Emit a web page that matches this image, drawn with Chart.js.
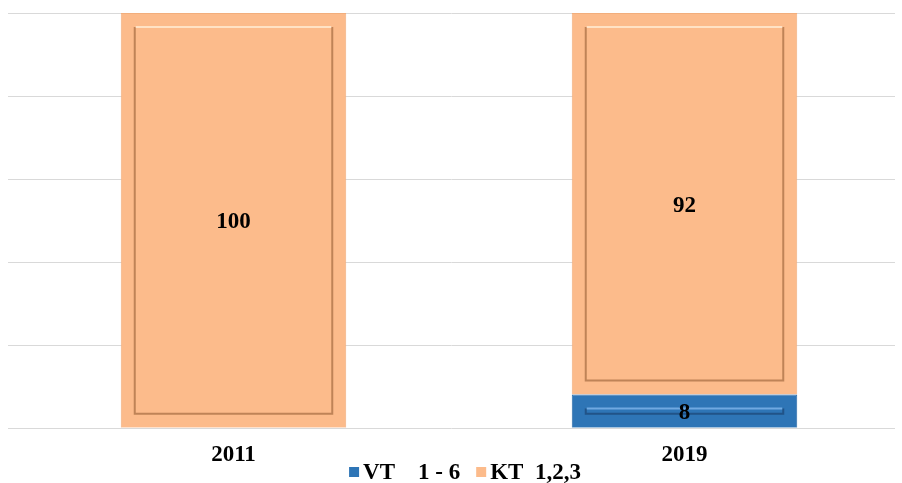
<!DOCTYPE html>
<html>
<head>
<meta charset="utf-8">
<script src="https://cdn.jsdelivr.net/npm/chart.js@4.4.1/dist/chart.umd.min.js"></script>
<style>
  html, body { margin: 0; padding: 0; background: #fff; overflow: hidden; }
  #wrap { width: 910px; height: 483px; }
</style>
</head>
<body>
<div id="wrap"><canvas id="chart"></canvas></div>
<script>
const years = ['2011', '2019'];
const vtValues = [0, 8];
const ktValues = [100, 92];
const seriesNames = ['VT    1 - 6', 'KT  1,2,3'];

const serif = "'Liberation Serif', 'Times New Roman', serif";

// horizontal gridlines stop short of the right edge in the original
const shortGrid = {
  id: 'shortGrid',
  beforeDatasetsDraw(chart) {
    const ctx = chart.ctx;
    const y = chart.scales.y;
    const right = Math.min(chart.chartArea.right, 895);
    ctx.save();
    ctx.strokeStyle = '#d9d9d9';
    ctx.lineWidth = 1;
    y.ticks.forEach(t => {
      const py = Math.round(y.getPixelForValue(t.value)) + 0.5;
      ctx.beginPath();
      ctx.moveTo(chart.chartArea.left, py);
      ctx.lineTo(right, py);
      ctx.stroke();
    });
    ctx.restore();
  }
};

// fake the office "bevel" look with an inset frame on every bar
const bevelPlugin = {
  id: 'bevel',
  afterDatasetsDraw(chart) {
    const ctx = chart.ctx;
    chart.data.datasets.forEach((ds, i) => {
      const meta = chart.getDatasetMeta(i);
      meta.data.forEach((bar, j) => {
        if (!ds.data[j]) return;
        const left = bar.x - bar.width / 2;
        const right = bar.x + bar.width / 2;
        const top = Math.min(bar.y, bar.base);
        const bottom = Math.max(bar.y, bar.base);
        const h = bottom - top;
        const ix = 14;
        const iy = Math.min(14, h / 2 - 1);
        const l = left + ix, r = right - ix, t = top + iy, b = bottom - iy;
        ctx.save();
        ctx.lineWidth = 2;
        ctx.strokeStyle = ds.shade;
        ctx.beginPath();
        ctx.moveTo(l, t); ctx.lineTo(l, b); ctx.lineTo(r, b); ctx.lineTo(r, t);
        ctx.stroke();
        ctx.strokeStyle = ds.light;
        ctx.beginPath();
        ctx.moveTo(l + 1, t); ctx.lineTo(r - 1, t);
        ctx.stroke();
        ctx.restore();
      });
    });
  }
};

const valueLabels = {
  id: 'valueLabels',
  afterDatasetsDraw(chart) {
    const ctx = chart.ctx;
    ctx.save();
    ctx.font = 'bold 23px ' + serif;
    ctx.fillStyle = '#000';
    ctx.textAlign = 'center';
    ctx.textBaseline = 'middle';
    chart.data.datasets.forEach((ds, i) => {
      chart.getDatasetMeta(i).data.forEach((bar, j) => {
        const v = ds.data[j];
        if (!v) return;
        ctx.fillText(String(v), bar.x, (bar.y + bar.base) / 2 + 2);
      });
    });
    ctx.restore();
  }
};

// legend sits on the same band as the category labels, so draw it by hand
const bottomLegend = {
  id: 'bottomLegend',
  afterDraw(chart) {
    const ctx = chart.ctx;
    const y = 472, box = 10, gapText = 4, gapItem = 16;
    ctx.save();
    ctx.font = 'bold 23px ' + serif;
    ctx.textBaseline = 'middle';
    ctx.textAlign = 'left';
    const items = chart.data.datasets.map(ds => ({
      text: ds.label, color: ds.backgroundColor, w: ctx.measureText(ds.label).width
    }));
    let total = items.reduce((s, it) => s + box + gapText + it.w, 0) + gapItem * (items.length - 1);
    let x = (chart.chartArea.left + chart.chartArea.right) / 2 - total / 2 + 6;
    items.forEach(it => {
      ctx.fillStyle = it.color;
      ctx.fillRect(x, y - box / 2, box, box);
      x += box + gapText;
      ctx.fillStyle = '#000';
      ctx.fillText(it.text, x, y + 1);
      x += it.w + gapItem;
    });
    ctx.restore();
  }
};

new Chart(document.getElementById('chart'), {
  type: 'bar',
  data: {
    labels: years,
    datasets: [
      {
        label: seriesNames[0],
        data: vtValues,
        backgroundColor: '#2E75B6',
        borderColor: '#2a6aa6',
        borderWidth: 1,
        shade: 'rgba(20,50,90,0.5)',
        light: 'rgba(120,175,230,0.9)'
      },
      {
        label: seriesNames[1],
        data: ktValues,
        backgroundColor: '#FCBB8B',
        borderColor: '#f2ae7c',
        borderWidth: 1,
        shade: 'rgba(140,85,45,0.55)',
        light: 'rgba(255,228,200,0.95)'
      }
    ]
  },
  options: {
    responsive: true,
    maintainAspectRatio: false,
    animation: false,
    layout: { padding: { top: 13, left: 8, right: 0, bottom: 0 } },
    datasets: { bar: { categoryPercentage: 1, barPercentage: 0.5 } },
    scales: {
      x: {
        stacked: true,
        grid: { display: false, drawTicks: false },
        border: { display: false },
        ticks: {
          color: '#000',
          padding: 0,
          font: { family: serif, size: 23, weight: 'bold', lineHeight: 2.4 }
        }
      },
      y: {
        stacked: true,
        min: 0,
        max: 100,
        ticks: { display: false, stepSize: 20 },
        border: { display: false },
        grid: { display: false, drawTicks: false }
      }
    },
    plugins: {
      tooltip: { enabled: false },
      legend: { display: false }
    }
  },
  plugins: [shortGrid, bevelPlugin, valueLabels, bottomLegend]
});
</script>
</body>
</html>
